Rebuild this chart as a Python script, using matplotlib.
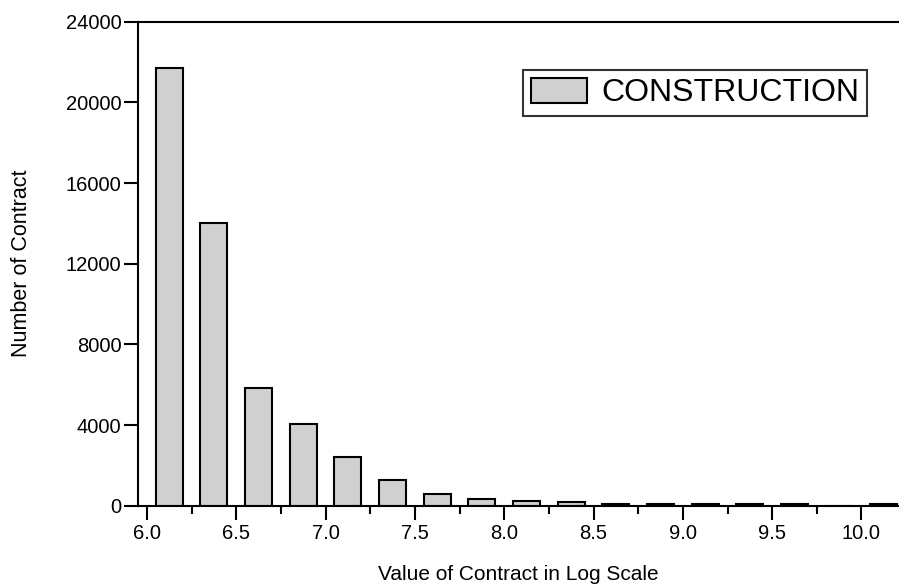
import matplotlib
matplotlib.use("Agg")
import matplotlib.pyplot as plt
from matplotlib.ticker import MultipleLocator

plt.rcParams['font.family'] = ['Liberation Sans', 'DejaVu Sans']

bin_centers = [6.125, 6.375, 6.625, 6.875, 7.125, 7.375, 7.625, 7.875,
               8.125, 8.375, 8.625, 8.875, 9.125, 9.375, 9.625, 9.875, 10.125]
counts = [21700, 14000, 5820, 4030, 2400, 1270, 565, 325,
          230, 180, 90, 80, 80, 80, 80, 0, 80]
x_ticks = [6.0, 6.5, 7.0, 7.5, 8.0, 8.5, 9.0, 9.5, 10.0]
y_ticks = [0, 4000, 8000, 12000, 16000, 20000, 24000]
series_name = "CONSTRUCTION"

fig = plt.figure(figsize=(8.99, 5.88), dpi=100)
ax = fig.add_axes([0.1535, 0.140, 0.8465, 0.823])

ax.bar(bin_centers, counts, width=0.152, color='#d0d0d0', edgecolor='black',
       linewidth=1.5, label=series_name, zorder=2)

ax.set_xlim(5.95, 10.21)
ax.set_ylim(0, 24000)
ax.set_xticks(x_ticks)
ax.set_xticklabels([f"{v:.1f}" for v in x_ticks])
ax.xaxis.set_minor_locator(MultipleLocator(0.25))
ax.set_yticks(y_ticks)
ax.set_yticklabels([str(v) for v in y_ticks])

for s in ['left', 'bottom', 'top']:
    ax.spines[s].set_linewidth(1.5)
ax.spines['right'].set_visible(False)

ax.tick_params(axis='x', which='major', direction='out', length=10, width=1.5,
               labelsize=14.5, pad=3)
ax.tick_params(axis='x', which='minor', direction='out', length=6, width=1.5)
ax.tick_params(axis='y', which='major', direction='out', length=10, width=1.5,
               labelsize=14.5, pad=2)

ax.set_xlabel("Value of Contract in Log Scale", fontsize=15, labelpad=16)
ax.set_ylabel("Number of Contract", fontsize=15.5, labelpad=24)

leg = ax.legend(loc='upper right', bbox_to_anchor=(0.958, 0.900), fontsize=23,
                frameon=True, fancybox=False, edgecolor='black', borderpad=0.25,
                handlelength=1.75, handleheight=0.8, handletextpad=0.45,
                borderaxespad=0)
leg.get_frame().set_linewidth(1.5)

fig.savefig("out.png", dpi=100)
